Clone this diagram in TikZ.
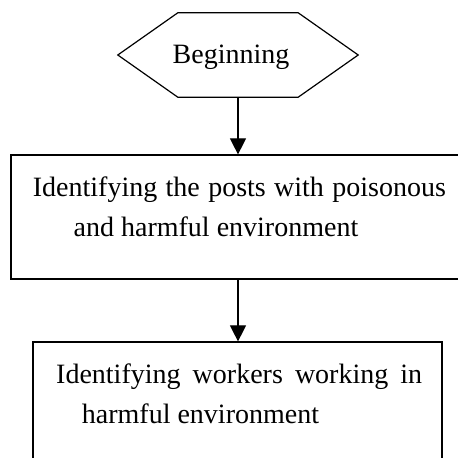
\documentclass[tikz,border=0pt]{standalone}
\usepackage{fontspec}
\setmainfont{Liberation Serif}
\usetikzlibrary{arrows.meta,calc}
\begin{document}
\begin{tikzpicture}[x=1pt,y=1pt,
  shapeline/.style={draw=black, line width=1.2pt},
  boxframe/.style={shapeline, rectangle, inner sep=0pt},
  txt/.style={anchor=base west, inner sep=0pt, font=\fontsize{28}{40}\selectfont},
  flow/.style={draw=black, line width=1.2pt, -{Triangle[width=16pt,length=16pt]}}]
\useasboundingbox (0,0) rectangle (458,458);
\clip (0,0) rectangle (458,458);
% start hexagon
\node[minimum width=240pt, minimum height=84pt, inner sep=0pt] (begin) at (238,403) {};
\draw[shapeline, line join=miter]
  ($(begin.north west)+(60,0)$) -- ($(begin.north east)+(-60,0)$) -- (begin.east)
  -- ($(begin.south east)+(-60,0)$) -- ($(begin.south west)+(60,0)$) -- (begin.west) -- cycle;
\node[txt] (begintxt) at (172.5,394) {Beginning};
% box 1
\node[boxframe, minimum width=459pt, minimum height=124pt] (box1) at (240.5,241) {};
\node[txt] (b1l1) at (32.7,261.3) {\makebox[413pt][s]{Identifying the posts with poisonous}};
\node[txt] (b1l2) at (73.5,221.3) {and harmful environment};
% box 2
\node[boxframe, minimum width=409pt, minimum height=130pt] (box2) at (237.5,51) {};
\node[txt] (b2l1) at (56,74.7) {\makebox[366pt][s]{Identifying workers working in}};
\node[txt] (b2l2) at (81.7,34.7) {harmful environment};
% connectors
\draw[flow] (begin.south) -- (begin.south |- box1.north);
\draw[flow] (box1.south -| begin.south) -- (box2.north -| begin.south);
\end{tikzpicture}
\end{document}
